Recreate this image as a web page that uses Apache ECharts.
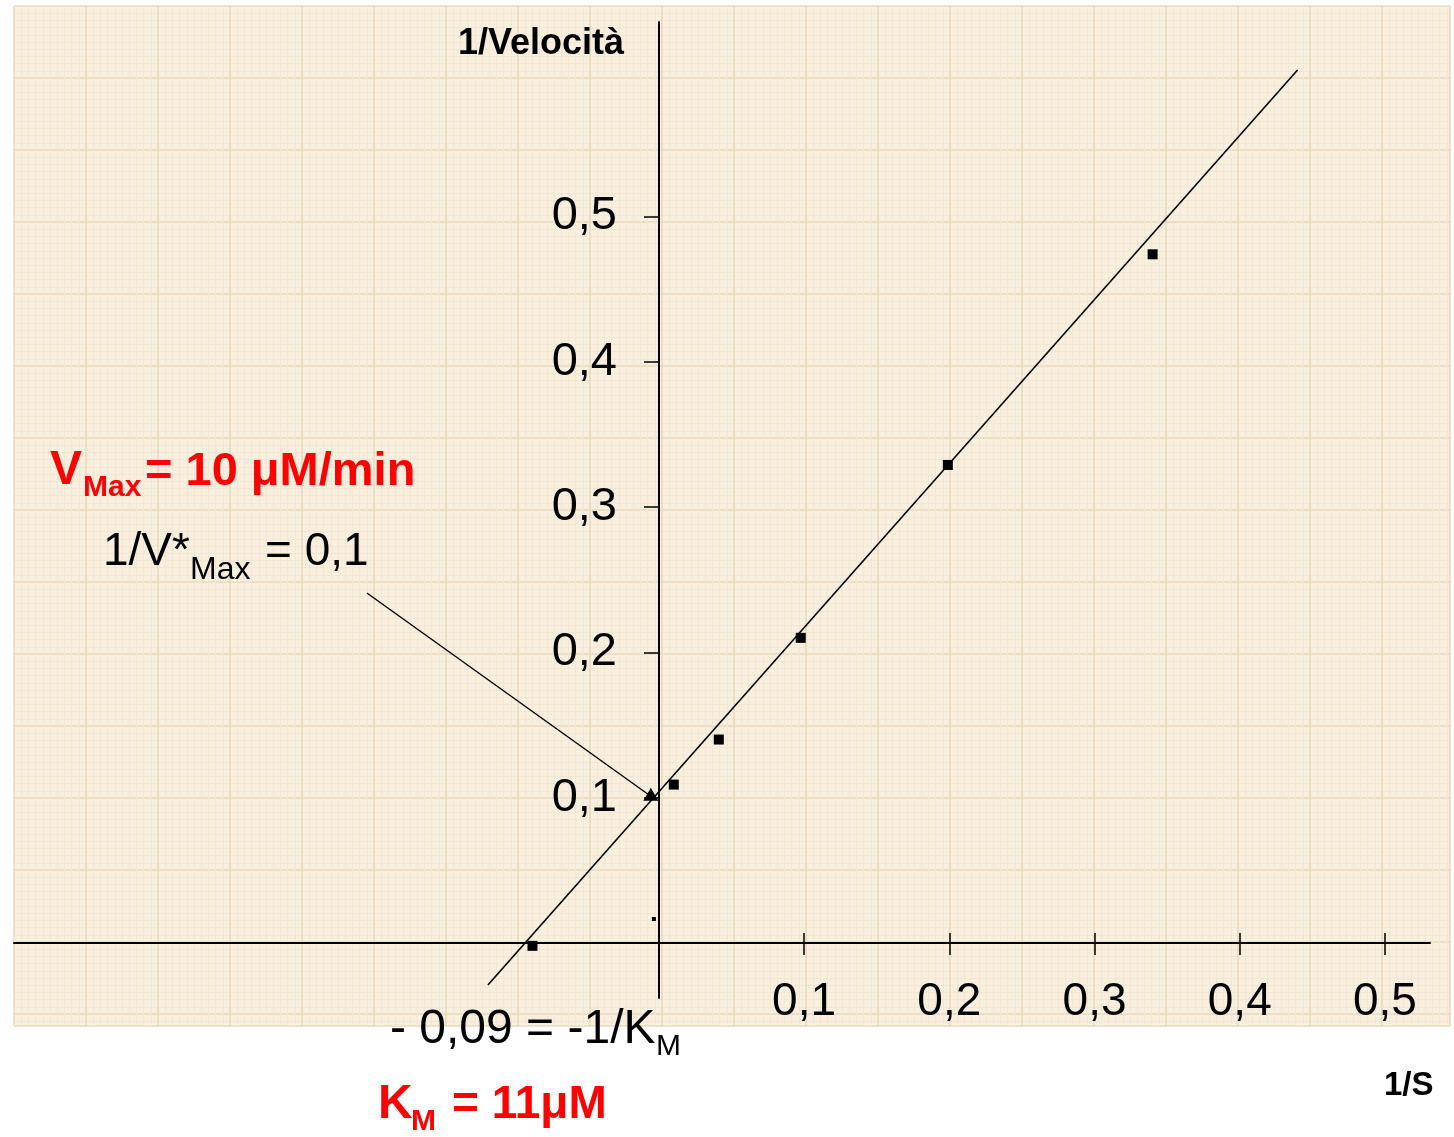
<!DOCTYPE html>
<html>
<head>
<meta charset="utf-8">
<script src="https://cdn.jsdelivr.net/npm/echarts@6/dist/echarts.min.js"></script>
<style>
html,body{margin:0;padding:0;background:#fff;}
#chart{width:1454px;height:1137px;}
</style>
</head>
<body>
<div id="chart"></div>
<script>
// ---- data ----
const pointsX = [-0.087, 0.0103, 0.0413, 0.0977, 0.199, 0.340];
const pointsY = [-0.002, 0.109, 0.140, 0.210, 0.329, 0.474];
const fitX = [-0.1177, 0.4398];
const fitY = [-0.0289, 0.6008];
const calloutX = [-0.201, -0.0055];
const calloutY = [0.2409, 0.101];
const interceptX = [-0.0055];
const interceptY = [0.101];
const strayX = [-0.0034];
const strayY = [0.0165];
const xTickValues = [0.1, 0.2, 0.3, 0.4, 0.5];
const yTickValues = [0.1, 0.2, 0.3, 0.4, 0.5];
const fmt = v => String(Math.round(v * 10) / 10).replace('.', ',');

const X_MIN = -0.444, X_MAX = 0.531, Y_MIN = -0.0379, Y_MAX = 0.6339;
const FONT = "'Liberation Sans', Arial, sans-serif";
const zip = (xs, ys) => xs.map((x, i) => [x, ys[i]]);

const chart = echarts.init(document.getElementById('chart'), null, {renderer: 'canvas'});

const txt = (text, x, y, size, bold, color) => ({
  type: 'text', left: x, top: y - size / 2, z: 10,
  style: {text: text, x: 0, y: 0, fill: color || '#000', font: (bold ? 'bold ' : '') + size + 'px ' + FONT,
          textVerticalAlign: 'top'}
});

const hiddenAxis = (extra) => Object.assign({
  type: 'value', axisLine: {show: false}, axisTick: {show: false}, axisLabel: {show: false}, splitLine: {show: false}
}, extra);

const paperAxis = (extra) => Object.assign({
  type: 'value', interval: 1, show: true,
  axisLine: {show: false}, axisTick: {show: false}, axisLabel: {show: false},
  minorTick: {show: false, splitNumber: 10},
  splitLine: {show: true, lineStyle: {color: '#e6d8bd', width: 1.5}},
  minorSplitLine: {show: true, lineStyle: {color: '#f2e7d3', width: 1}}
}, extra);

const common = {outerBoundsMode: 'none', containLabel: false};

const option = {
  animation: false,
  backgroundColor: '#ffffff',
  grid: [
    // 0: data area
    Object.assign({left: 14, right: 24, top: 22, bottom: 139, z: 2}, common),
    // 1: graph paper
    Object.assign({left: 14, top: 6, width: 1436, height: 1020, show: true, backgroundColor: '#f9efdf', borderWidth: 0, z: 0}, common),
    // 2: x axis (bottom edge on y = 0)
    Object.assign({left: 14, right: 24, top: 22, bottom: 194, z: 3}, common),
    // 3: x axis upper ticks (top edge on y = 0)
    Object.assign({left: 14, right: 24, top: 943, bottom: 139, z: 3}, common),
    // 4: y axis (left edge on x = 0)
    Object.assign({left: 659, right: 24, top: 22, bottom: 139, z: 3}, common)
  ],
  xAxis: [
    hiddenAxis({gridIndex: 0, min: X_MIN, max: X_MAX}),
    paperAxis({gridIndex: 1, min: 0, max: 1436 / 72}),
    {type: 'value', gridIndex: 2, min: X_MIN, max: X_MAX, position: 'bottom', z: 5,
     axisLine: {show: true, onZero: false, lineStyle: {color: '#000', width: 2}},
     axisTick: {show: true, inside: false, length: 12, customValues: xTickValues, lineStyle: {color: '#000', width: 1.5}},
     axisLabel: {show: true, customValues: xTickValues, formatter: fmt, margin: 36, fontSize: 46, fontFamily: FONT, color: '#000'},
     splitLine: {show: false}},
    {type: 'value', gridIndex: 3, min: X_MIN, max: X_MAX, position: 'top', z: 5,
     axisLine: {show: false, onZero: false},
     axisTick: {show: true, inside: false, length: 10, customValues: xTickValues, lineStyle: {color: '#000', width: 1.5}},
     axisLabel: {show: false},
     splitLine: {show: false}},
    hiddenAxis({gridIndex: 4, min: 0, max: 1})
  ],
  yAxis: [
    hiddenAxis({gridIndex: 0, min: Y_MIN, max: Y_MAX}),
    paperAxis({gridIndex: 1, min: 0, max: 1020 / 72, inverse: true}),
    hiddenAxis({gridIndex: 2, min: 0, max: 1}),
    hiddenAxis({gridIndex: 3, min: 0, max: 1}),
    {type: 'value', gridIndex: 4, min: Y_MIN, max: Y_MAX, position: 'left', z: 5,
     axisLine: {show: true, onZero: false, lineStyle: {color: '#000', width: 2}},
     axisTick: {show: true, inside: false, length: 15, customValues: yTickValues, lineStyle: {color: '#000', width: 1.5}},
     axisLabel: {show: true, customValues: yTickValues, formatter: fmt, margin: 42, fontSize: 47, fontFamily: FONT, color: '#000',
                 padding: [6, 0, 0, 0]},
     splitLine: {show: false}}
  ],
  series: [
    {name: 'fit', type: 'line', xAxisIndex: 0, yAxisIndex: 0, data: zip(fitX, fitY), showSymbol: false,
     symbol: 'none', lineStyle: {color: '#000', width: 1.6}, z: 6, silent: true},
    {name: 'callout', type: 'line', xAxisIndex: 0, yAxisIndex: 0, data: zip(calloutX, calloutY), showSymbol: false,
     symbol: 'none', lineStyle: {color: '#000', width: 1.4}, z: 6, silent: true},
    {name: 'points', type: 'scatter', xAxisIndex: 0, yAxisIndex: 0, data: zip(pointsX, pointsY), symbol: 'rect',
     symbolSize: 10, itemStyle: {color: '#000', opacity: 1}, z: 7, silent: true},
    {name: 'intercept', type: 'scatter', xAxisIndex: 0, yAxisIndex: 0, data: zip(interceptX, interceptY), symbol: 'triangle',
     symbolSize: [15, 13], symbolOffset: [0, -2], itemStyle: {color: '#000', opacity: 1}, z: 7, silent: true},
    {name: 'stray', type: 'scatter', xAxisIndex: 0, yAxisIndex: 0, data: zip(strayX, strayY), symbol: 'rect',
     symbolSize: 4, itemStyle: {color: '#000', opacity: 1}, z: 7, silent: true}
  ],
  graphic: [
    txt('1/Velocità', 458, 44, 36, true),
    txt('1/S', 1384, 1086, 33, true),
    txt('V', 50, 471, 48, true, '#ff0000'),
    txt('Max', 83, 488, 30, true, '#ff0000'),
    txt('= 10 μM/min', 145, 472, 47, true, '#ff0000'),
    txt('1/V*', 103, 552, 46, false),
    txt('Max', 190, 570, 32, false),
    txt('= 0,1', 265, 552, 46, false),
    txt('- 0,09 = -1/K', 390, 1030, 48, false),
    txt('M', 656, 1047, 30, false),
    txt('K', 378, 1105, 48, true, '#ff0000'),
    txt('M', 411, 1122, 30, true, '#ff0000'),
    txt('= 11μM', 452, 1105, 46, true, '#ff0000')
  ]
};
chart.setOption(option);
</script>
</body>
</html>
